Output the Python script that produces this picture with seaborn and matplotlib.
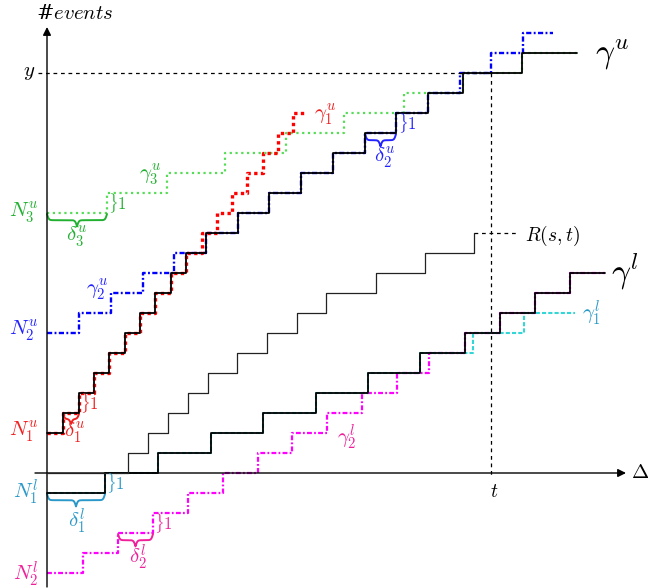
import numpy as np
import matplotlib
matplotlib.use("Agg")
import matplotlib.pyplot as plt
import seaborn as sns

# Step curves: start level, x of each unit jump, x where the curve ends
# (x measured from the origin of the diagram, one unit per event on y)
g1u_start, g1u_end = 2, 260
g1u_jumps = [16, 32, 47, 62, 78, 93, 108, 124, 139, 155, 170, 185, 200, 216, 231, 246]

g2u_start, g2u_end = 7, 506
g2u_jumps = [32, 64, 96, 127, 159, 191, 222, 254, 286, 318, 349, 381, 413, 444, 476]

g3u_start, g3u_end = 13, 530
g3u_jumps = [60, 120, 178, 239, 297, 357, 416, 475]

gu_start, gu_end = 2, 530
gu_jumps = [16, 32, 47, 62, 78, 93, 108, 124, 139, 159, 191, 222, 254, 286,
            318, 349, 381, 416, 475]

g1l_start, g1l_end = -1, 528
g1l_jumps = [58, 111, 164, 216, 269, 321, 373, 426, 477]

g2l_start, g2l_end = -5, 558
g2l_jumps = [36, 71, 106, 141, 176, 211, 245, 280, 315, 350, 382, 418, 453, 488, 523]

gl_start, gl_end = -1, 558
gl_jumps = [58, 111, 164, 216, 269, 321, 373, 418, 453, 488, 523]

r_start, r_end = 0, 427
r_jumps = [81, 101, 121, 141, 161, 190, 220, 250, 279, 329, 378, 427]
r_dash_end = 471

t_mark, y_mark = 444, 20

RED, RED_T = "#ff0000", "#f02020"
BLUE, BLUE_T = "#0000ff", "#2222ff"
GREEN, GREEN_T = "#55dd55", "#22b030"
CYAN, CYAN_T = "#33d6d6", "#2a98c8"
MAG, MAG_T = "#ff00ff", "#f0209a"

sns.set_theme(style="white")
plt.rcParams["mathtext.fontset"] = "cm"
plt.rcParams["font.family"] = ["DejaVu Serif"]


def steps(start, jumps, end):
    xs = [0] + list(jumps) + [end]
    ys = [start + i for i in range(len(jumps) + 1)] + [start + len(jumps)]
    return xs, ys


def draw(ax, start, jumps, end, **kw):
    xs, ys = steps(start, jumps, end)
    sns.lineplot(x=xs, y=ys, ax=ax, drawstyle="steps-post", sort=False,
                 estimator=None, legend=False, **kw)


def underbrace(ax, x0, x1, y, color, h=0.62, lw=1.4):
    half = (x1 - x0) / 2
    xh = np.linspace(0, half, 120)
    beta = 1.1
    yh = 1 / (1 + np.exp(-beta * (xh - xh[0]))) + 1 / (1 + np.exp(-beta * (xh - xh[-1])))
    yy = np.concatenate([yh, yh[-2::-1]]) - 0.5
    xx = np.linspace(x0, x1, len(yy))
    ax.plot(xx, y - h * yy, color=color, lw=lw, solid_capstyle="round")


fig = plt.figure(figsize=(6.48, 5.88), dpi=100)
ax = fig.add_axes([0, 0, 1, 1])
ax.set_xlim(-47, 601)
ax.set_ylim(-5.75, 23.65)
ax.axis("off")

# axes with arrows
ax.annotate("", xy=(579, 0), xytext=(-12, 0),
            arrowprops=dict(arrowstyle="-|>", color="black", lw=1.0,
                            mutation_scale=12, shrinkA=0, shrinkB=0))
ax.annotate("", xy=(0, 22.3), xytext=(0, -5.7),
            arrowprops=dict(arrowstyle="-|>", color="black", lw=1.0,
                            mutation_scale=12, shrinkA=0, shrinkB=0))

# coloured curves
dashdot = (0, (2.2, 1, 0.8, 1))
draw(ax, g3u_start, g3u_jumps, g3u_end, color=GREEN, lw=1.6, linestyle=(0, (1, 1.6)), zorder=2)
draw(ax, g2u_start, g2u_jumps, g2u_end, color=BLUE, lw=1.7, linestyle=dashdot, zorder=2)
draw(ax, g1u_start, g1u_jumps, g1u_end, color=RED, lw=2.4, linestyle=(0, (1, 1)), zorder=2)
draw(ax, g2l_start, g2l_jumps, g2l_end, color=MAG, lw=1.6, linestyle=dashdot, zorder=2)
draw(ax, g1l_start, g1l_jumps, g1l_end, color=CYAN, lw=1.5, linestyle=(0, (2, 1)), zorder=2)

# black envelopes and R
draw(ax, gu_start, gu_jumps, gu_end, color="black", lw=1.3, zorder=3)
draw(ax, gl_start, gl_jumps, gl_end, color="black", lw=1.3, zorder=3)
draw(ax, r_start, r_jumps, r_end, color="#222222", lw=0.9, zorder=3)
ax.plot([r_end, r_dash_end], [len(r_jumps)] * 2, color="black", lw=0.9,
        linestyle=(0, (3, 3)))

# y and t markers
ax.plot([-9, t_mark], [y_mark, y_mark], color="black", lw=0.9, linestyle=(0, (3, 3)))
ax.plot([t_mark, t_mark], [y_mark, -0.2], color="black", lw=0.9, linestyle=(0, (3, 3)))

# braces
underbrace(ax, 0, g3u_jumps[0], g3u_start - 0.05, GREEN_T)
underbrace(ax, 318, 349, 16.95, BLUE_T)
underbrace(ax, g1u_jumps[0], g1u_jumps[1], g1u_start + 0.95, RED_T, h=0.5)
underbrace(ax, 0, g1l_jumps[0], g1l_start - 0.05, CYAN_T)
underbrace(ax, g2l_jumps[1], g2l_jumps[2], g2l_start + 1.95, MAG_T)

fs = 15
txt = dict(fontsize=fs, va="center")
ax.text(-9, 13.0, r"$N_3^u$", color=GREEN_T, ha="right", **txt)
ax.text(-9, 7.1, r"$N_2^u$", color=BLUE_T, ha="right", **txt)
ax.text(-9, 2.05, r"$N_1^u$", color=RED_T, ha="right", **txt)
ax.text(-9, -0.95, r"$N_1^l$", color=CYAN_T, ha="right", **txt)
ax.text(-9, -5.05, r"$N_2^l$", color=MAG_T, ha="right", **txt)

ax.text(30, 11.8, r"$\delta_3^u$", color=GREEN_T, ha="center", **txt)
ax.text(338, 15.75, r"$\delta_2^u$", color=BLUE_T, ha="center", **txt)
ax.text(28, 2.0, r"$\delta_1^u$", color=RED_T, ha="center", **txt)
ax.text(30, -2.4, r"$\delta_1^l$", color=CYAN_T, ha="center", **txt)
ax.text(91, -4.2, r"$\delta_2^l$", color=MAG_T, ha="center", **txt)

one = dict(fontsize=12, va="center", ha="left")
ax.text(g3u_jumps[0] + 1, g3u_start + 0.5, r"$\}1$", color=GREEN_T, **one)
ax.text(351, 17.5, r"$\}1$", color=BLUE_T, **one)
ax.text(g1u_jumps[1] + 1, g1u_start + 1.5, r"$\}1$", color=RED_T, **one)
ax.text(g1l_jumps[0] + 1, g1l_start + 0.5, r"$\}1$", color=CYAN_T, **one)
ax.text(g2l_jumps[2] + 1, g2l_start + 2.5, r"$\}1$", color=MAG_T, **one)

ax.text(103, 14.9, r"$\gamma_3^u$", color=GREEN_T, ha="center", **txt)
ax.text(50, 9.15, r"$\gamma_2^u$", color=BLUE_T, ha="center", **txt)
ax.text(278, 17.9, r"$\gamma_1^u$", color=RED_T, ha="center", **txt)
ax.text(544, 8.0, r"$\gamma_1^l$", color=CYAN_T, ha="center", **txt)
ax.text(300, 1.8, r"$\gamma_2^l$", color=MAG_T, ha="center", **txt)
ax.text(565, 20.9, r"$\gamma^u$", color="black", ha="center", fontsize=24, va="center")
ax.text(578, 10.05, r"$\gamma^l$", color="black", ha="center", fontsize=24, va="center")
ax.text(478, 11.85, r"$R(s,t)$", color="black", ha="left", fontsize=14, va="center")

ax.text(-12, y_mark, r"$y$", color="black", ha="right", fontsize=15, va="center")
ax.text(t_mark + 3, -0.95, r"$t$", color="black", ha="center", fontsize=14, va="center")
ax.text(584, 0.05, r"$\Delta$", color="black", ha="left", fontsize=15, va="center")
ax.text(-11, 22.95, r"#$events$", color="black", ha="left", fontsize=15, va="center")

fig.savefig("out.png", dpi=100)
